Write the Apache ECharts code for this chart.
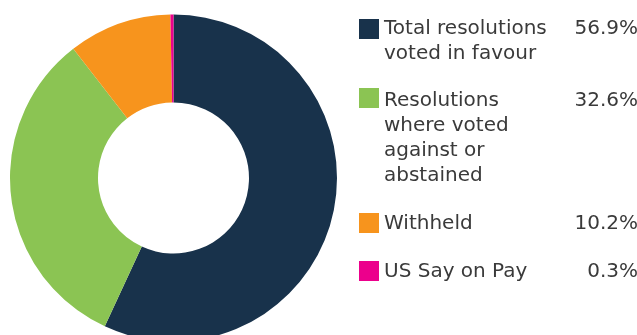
<!DOCTYPE html>
<html>
<head>
<meta charset="utf-8">
<style>
  html, body { margin: 0; padding: 0; background: #fff; }
  #chart { width: 637px; height: 335px; }
</style>
<script src="https://cdn.jsdelivr.net/npm/echarts@6/dist/echarts.min.js"></script>
</head>
<body>
<div id="chart"></div>
<script>
// Voting outcome shares (%)
const categories = [
  'Total resolutions voted in favour',
  'Resolutions where voted against or abstained',
  'Withheld',
  'US Say on Pay'
];
// Legend text, broken into lines as printed
const legendLines = [
  ['Total resolutions', 'voted in favour'],
  ['Resolutions', 'where voted', 'against or', 'abstained'],
  ['Withheld'],
  ['US Say on Pay']
];
const values = [56.9, 32.6, 10.2, 0.3];
const colors = ['#18324b', '#8bc453', '#f7941d', '#ec008c'];

const LINE_H = 25;
const ICON = 20;
const iconTops = [19, 88, 213, 261];
// small downward nudge of each text block relative to its swatch (px)
const textNudge = [0, 3, 1, 1];

const chart = echarts.init(document.getElementById('chart'), null, { renderer: 'canvas' });

// One legend block per entry; top padding pushes the text down so the
// swatch sits beside the first line rather than the middle of the block
const legends = categories.map((name, i) => {
  const lines = legendLines[i];
  const k = lines.length;
  return {
    show: true,
    data: [name],
    orient: 'vertical',
    left: 359,
    top: iconTops[i],
    padding: 0,
    itemWidth: ICON,
    itemHeight: ICON,
    icon: 'rect',
    selectedMode: false,
    formatter: () => {
      const first = '{n|' + lines[0] + '}{v|' + values[i].toFixed(1) + '%}';
      const rest = lines.slice(1).map(l => '{n|' + l + '}');
      return [first].concat(rest).join('\n');
    },
    textStyle: {
      fontFamily: 'DejaVu Sans',
      fontSize: 20,
      color: '#3a3a3a',
      padding: [(k - 1) * LINE_H + 2 * textNudge[i], 0, 0, 0],
      rich: {
        n: { fontFamily: 'DejaVu Sans', fontSize: 20, color: '#3a3a3a', lineHeight: LINE_H, width: 180 },
        v: { fontFamily: 'DejaVu Sans', fontSize: 20, color: '#3a3a3a', lineHeight: LINE_H, width: 74, align: 'right' }
      }
    }
  };
});

chart.setOption({
  animation: false,
  color: colors,
  legend: legends,
  series: [{
    type: 'pie',
    center: [173.5, 178],
    radius: [75.5, 163.5],
    startAngle: 90,
    clockwise: true,
    avoidLabelOverlap: false,
    label: { show: false },
    labelLine: { show: false },
    emphasis: { disabled: true },
    itemStyle: { borderWidth: 0 },
    data: categories.map((name, i) => ({ name, value: values[i] }))
  }]
});
</script>
</body>
</html>
